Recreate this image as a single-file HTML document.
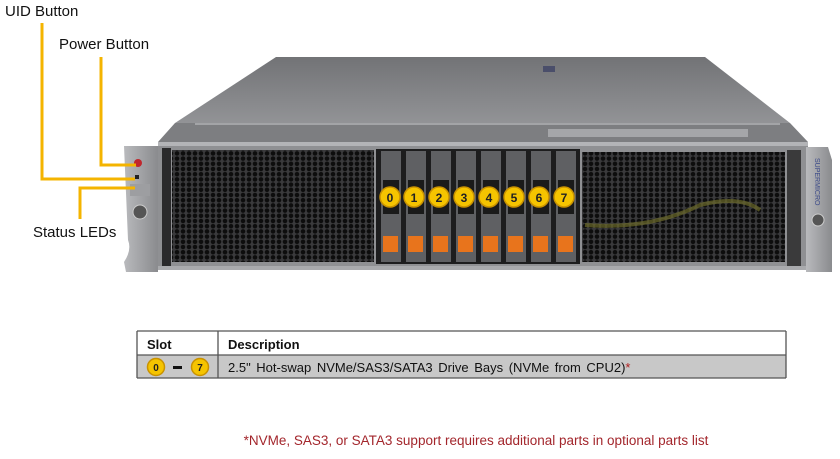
<!DOCTYPE html>
<html><head><meta charset="utf-8"><style>
html,body{margin:0;padding:0;background:#fff;width:840px;height:459px;overflow:hidden}
svg{display:block;font-family:"Liberation Sans",Arial,sans-serif}
</style></head><body>
<svg width="840" height="459" viewBox="0 0 840 459" xmlns="http://www.w3.org/2000/svg">
<defs>
<linearGradient id="top" x1="0" y1="0" x2="0" y2="1">
<stop offset="0" stop-color="#727376"/><stop offset="1" stop-color="#929396"/></linearGradient>
<linearGradient id="ear" x1="0" y1="0" x2="1" y2="0">
<stop offset="0" stop-color="#b9babd"/><stop offset="1" stop-color="#8a8b8e"/></linearGradient>
<pattern id="mesh" width="6" height="5.2" patternUnits="userSpaceOnUse">
<rect width="6" height="5.2" fill="#3a3a3c"/>
<circle cx="3" cy="2.6" r="2.3" fill="#0d0d0d"/>
</pattern>
</defs>
<polygon points="276,57 705,57 790,123 175,123" fill="url(#top)"/>
<polygon points="175,123 790,123 808,142 158,142" fill="#7d7e81"/>
<line x1="195" y1="124" x2="780" y2="124" stroke="#b0b1b4" stroke-width="1.5"/>
<rect x="543" y="66" width="12" height="6" fill="#4a4e6a"/>
<rect x="548" y="129" width="200" height="8" fill="#a5a6a9"/>
<rect x="158" y="142" width="650" height="128" fill="#8f9093"/>
<rect x="158" y="142" width="650" height="4" fill="#b3b4b7"/>
<rect x="158" y="266" width="650" height="4" fill="#a9aaad"/>
<rect x="172" y="150" width="202" height="112" fill="url(#mesh)"/>
<rect x="582" y="152" width="203" height="110" fill="url(#mesh)"/>
<path d="M585 225 Q650 230 700 205 Q740 195 760 210" stroke="#6b6a2a" stroke-width="4" fill="none" opacity="0.7"/>
<rect x="162" y="148" width="9" height="118" fill="#2a2a2b"/>
<rect x="787" y="150" width="14" height="116" fill="#3a3a3b"/>
<rect x="376" y="149" width="204" height="115" fill="#1d1d1e"/>
<g fill="#5f6063"><rect x="381" y="151" width="20" height="111"/><rect x="406" y="151" width="20" height="111"/><rect x="431" y="151" width="20" height="111"/><rect x="456" y="151" width="20" height="111"/><rect x="481" y="151" width="20" height="111"/><rect x="506" y="151" width="20" height="111"/><rect x="531" y="151" width="20" height="111"/><rect x="556" y="151" width="20" height="111"/></g>
<g fill="#1a1a1a"><rect x="383" y="180" width="16" height="34"/><rect x="408" y="180" width="16" height="34"/><rect x="433" y="180" width="16" height="34"/><rect x="458" y="180" width="16" height="34"/><rect x="483" y="180" width="16" height="34"/><rect x="508" y="180" width="16" height="34"/><rect x="533" y="180" width="16" height="34"/><rect x="558" y="180" width="16" height="34"/></g>
<g fill="#e8741c"><rect x="383" y="236" width="15" height="16"/><rect x="408" y="236" width="15" height="16"/><rect x="433" y="236" width="15" height="16"/><rect x="458" y="236" width="15" height="16"/><rect x="483" y="236" width="15" height="16"/><rect x="508" y="236" width="15" height="16"/><rect x="533" y="236" width="15" height="16"/><rect x="558" y="236" width="15" height="16"/></g>
<g fill="#f5c400" stroke="#c99200" stroke-width="1.5">
<circle cx="390" cy="197" r="10"/><circle cx="414" cy="197" r="10"/><circle cx="439" cy="197" r="10"/><circle cx="464" cy="197" r="10"/><circle cx="489" cy="197" r="10"/><circle cx="514" cy="197" r="10"/><circle cx="539" cy="197" r="10"/><circle cx="564" cy="197" r="10"/></g>
<g font-size="12" font-weight="bold" fill="#222" text-anchor="middle">
<text x="390" y="202">0</text><text x="414" y="202">1</text><text x="439" y="202">2</text><text x="464" y="202">3</text><text x="489" y="202">4</text><text x="514" y="202">5</text><text x="539" y="202">6</text><text x="564" y="202">7</text></g>
<path d="M124 146 H158 V272 H126 L124 262 Q132 250 128 240 Z" fill="url(#ear)"/>
<circle cx="138" cy="163" r="4" fill="#c0272d"/>
<rect x="135" y="175" width="4" height="4" fill="#222"/>
<rect x="130" y="184" width="20" height="12" fill="#9d9ea1"/>
<circle cx="140" cy="212" r="7" fill="#555" stroke="#ccc"/>
<path d="M806 147 H828 L832 160 V272 H806 Z" fill="url(#ear)"/>
<text x="815" y="158" font-size="7" fill="#3b4a8a" transform="rotate(90 815 158)">SUPERMICRO</text>
<circle cx="818" cy="220" r="6" fill="#555" stroke="#ccc"/>
<g stroke="#f4b400" stroke-width="3" fill="none">
<polyline points="42,23 42,179 135,179"/>
<polyline points="101,57 101,165 136,165"/>
<polyline points="80,219 80,188 135,188"/>
</g>
<g font-size="15" fill="#111">
<text x="5" y="16">UID Button</text>
<text x="59" y="49">Power Button</text>
<text x="33" y="237">Status LEDs</text>
</g>
<rect x="137" y="355" width="649" height="23" fill="#c8c8c8"/>
<g stroke="#555" stroke-width="1.3">
<line x1="137" y1="331" x2="786" y2="331"/>
<line x1="137" y1="355" x2="786" y2="355"/>
<line x1="137" y1="378" x2="786" y2="378"/>
<line x1="137" y1="331" x2="137" y2="378"/>
<line x1="786" y1="331" x2="786" y2="378"/>
<line x1="218" y1="331" x2="218" y2="378"/>
</g>
<g font-size="13" font-weight="bold" fill="#111">
<text x="147" y="349">Slot</text>
<text x="228" y="349">Description</text>
</g>
<g fill="#f5c400" stroke="#c99200" stroke-width="1.5"><circle cx="156" cy="367" r="8.5"/><circle cx="200" cy="367" r="8.5"/></g>
<g font-size="10" font-weight="bold" fill="#222" text-anchor="middle"><text x="156" y="371">0</text><text x="200" y="371">7</text></g>
<rect x="173" y="366" width="9" height="3" fill="#111"/>
<text x="228" y="372" font-size="13" word-spacing="2" fill="#111">2.5" Hot-swap NVMe/SAS3/SATA3 Drive Bays (NVMe from CPU2)<tspan fill="#b02020">*</tspan></text>
<text x="476" y="445" font-size="13.5" fill="#a3262c" text-anchor="middle">*NVMe, SAS3, or SATA3 support requires additional parts in optional parts list</text>
</svg>
</body></html>
